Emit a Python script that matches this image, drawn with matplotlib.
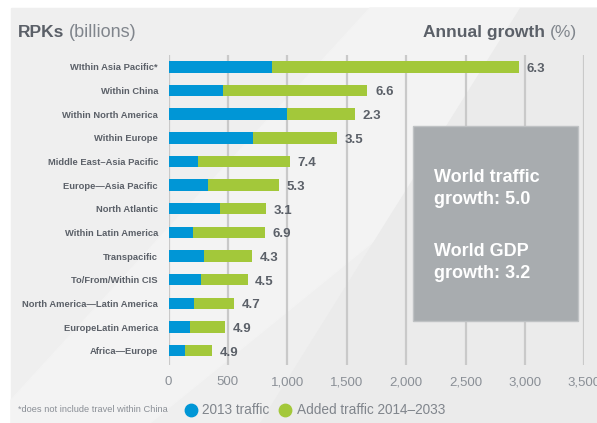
import matplotlib
matplotlib.use('Agg')
from matplotlib import pyplot as plt
from matplotlib.patches import Polygon, Rectangle

plt.rcParams['font.family'] = ['Liberation Sans', 'DejaVu Sans']

regions = ['WIthin Asia Pacific*', 'Within China', 'Within North America', 'Within Europe',
           'Middle East\u2013Asia Pacific', 'Europe\u2014Asia Pacific', 'North Atlantic',
           'Within Latin America', 'Transpacific', 'To/From/Within CIS',
           'North America\u2014Latin America', 'EuropeLatin America', 'Africa\u2014Europe']
traffic_2013 = [871, 456, 997, 714, 245, 330, 437, 209, 302, 270, 211, 180, 135]
total_2033 = [2948, 1674, 1567, 1416, 1023, 930, 817, 811, 704, 665, 550, 476, 366]
growth = ['6.3', '6.6', '2.3', '3.5', '7.4', '5.3', '3.1', '6.9', '4.3', '4.5', '4.7', '4.9', '4.9']
ticks = [0, 500, 1000, 1500, 2000, 2500, 3000, 3500]

added = [t - b for t, b in zip(total_2033, traffic_2013)]

blue = '#0096d6'
green = '#a3c83a'
txt = '#5b6068'
light = '#80858c'

W, H = 597, 423
fig = plt.figure(figsize=(W / 100, H / 100), dpi=100)
fig.patch.set_facecolor('white')

def fx(px):
    return px / W

def fy(py):
    return 1 - py / H

# grey background panel with faint diagonal bands
bg = fig.add_axes([0, 0, 1, 1])
bg.set_xlim(0, W)
bg.set_ylim(H, 0)
bg.axis('off')
bg.add_patch(Rectangle((11, 8), W - 11, H - 8, color='#efefef', zorder=0))
bg.add_patch(Polygon([(370, 8), (597, 8), (597, 60), (150, 423), (11, 423), (11, 400)],
                     closed=True, color='#f3f3f3', zorder=1))
bg.add_patch(Polygon([(520, 8), (597, 8), (597, 423), (260, 423)],
                     closed=True, color='#ebebeb', zorder=1))

x0, x1 = 168.5, 584.3
top, bot = 55, 365
ax = fig.add_axes([fx(x0), fy(bot), fx(x1 - x0), (bot - top) / H])
ax.patch.set_alpha(0)
ax.set_xlim(0, 3500)
ax.set_ylim(12.6, -0.5)

for t in ticks:
    ax.axvline(t, color='#c9c9c9', linewidth=1.6, zorder=0)

y = list(range(len(regions)))
ax.barh(y, traffic_2013, height=0.48, color=blue, zorder=2)
ax.barh(y, added, left=traffic_2013, height=0.48, color=green, zorder=2)

for i in y:
    ax.text(total_2033[i] + 65, i + 0.08, growth[i], ha='left', va='center',
            fontsize=9.5, fontweight='bold', color=txt)

ax.set_yticks(y)
ax.set_yticklabels(regions, fontsize=6.75, fontweight='bold', color=txt)
ax.set_xticks(ticks)
ax.set_xticklabels(['{:,}'.format(t) for t in ticks], fontsize=9.5, color='#8a8f96')
ax.tick_params(axis='y', length=0, pad=7.5)
ax.tick_params(axis='x', length=0, pad=8)
for s in ax.spines.values():
    s.set_visible(False)

# overlay for the info box, drawn above the gridlines
ov = fig.add_axes([0, 0, 1, 1])
ov.set_xlim(0, W)
ov.set_ylim(H, 0)
ov.axis('off')
ov.patch.set_alpha(0)
ov.add_patch(Rectangle((413, 126), 165, 195, facecolor='#a8acaf',
                       edgecolor='#bfc2c4', linewidth=1))
box_lines = ['World traffic', 'growth: 5.0', 'World GDP', 'growth: 3.2']
box_y = [182, 204, 256, 278]
for s, yy in zip(box_lines, box_y):
    ov.text(434, yy, s, fontsize=13, fontweight='bold', color='white',
            va='baseline', ha='left')

# headers
ov.text(18, 37, 'RPKs', fontsize=12.5, fontweight='bold', color=txt, va='baseline')
ov.text(69, 37, '(billions)', fontsize=13, color=light, va='baseline')
ov.text(545, 37, 'Annual growth', fontsize=12.5, fontweight='bold', color=txt,
        va='baseline', ha='right')
ov.text(550, 37, '(%)', fontsize=12.5, color=light, va='baseline', ha='left')

# footnote and legend
ov.text(18, 410, '*does not include travel within China', fontsize=6.7, color='#8a8f96',
        va='center')
ov.scatter([191], [410], s=80, color=blue)
ov.text(202, 410, '2013 traffic', fontsize=9.8, color=light, va='center')
ov.scatter([285], [410], s=80, color=green)
ov.text(297, 410, 'Added traffic 2014\u20132033', fontsize=9.8, color=light, va='center')

fig.savefig('out.png', dpi=100)
